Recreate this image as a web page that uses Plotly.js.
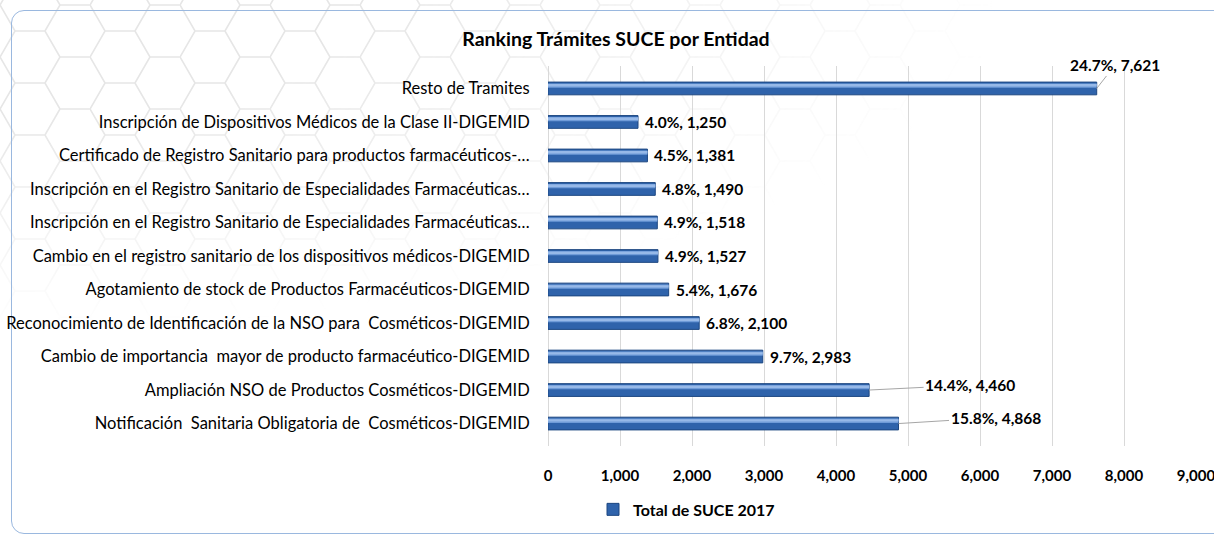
<!DOCTYPE html>
<html>
<head>
<meta charset="utf-8">
<script src="https://cdn.plot.ly/plotly-3.0.1.min.js"></script>
<style>
  html, body { margin:0; padding:0; background:#ffffff; }
  #wrap { position:relative; width:1214px; height:538px; overflow:hidden; background:#ffffff; }
  #hex {
    position:absolute; left:0; top:0; width:1214px; height:538px;
    background-image:url("data:image/svg+xml;utf8,<svg xmlns='http://www.w3.org/2000/svg' width='90' height='52'><path d='M0,26 L15,0 L45,0 L60,26 L45,52 L15,52 Z M60,26 L90,26' fill='none' stroke='%23e6e6e6' stroke-width='1.6'/></svg>");
    background-size:90px 52px;
    background-position:0px 31px;
    -webkit-mask-image:radial-gradient(ellipse 1000px 330px at 0px 0px, #000 35%, transparent 100%);
    mask-image:radial-gradient(ellipse 1000px 330px at 0px 0px, #000 35%, transparent 100%);
  }
  #card {
    position:absolute; left:11px; top:10px; width:1240px; height:524px;
    border:1.5px solid #9ab8df; border-radius:13px; box-sizing:border-box;
  }
  #chart { position:absolute; left:0; top:0; width:1214px; height:538px; }
</style>
</head>
<body>
<div id="wrap">
  <div id="hex"></div>
  <div id="card"></div>
  <div id="chart"></div>
</div>
<script>
// Data (top to bottom as shown)
const categories = [
  "Resto de Tramites",
  "Inscripción de Dispositivos Médicos de la Clase II-DIGEMID",
  "Certificado de Registro Sanitario para productos farmacéuticos-…",
  "Inscripción en el Registro Sanitario de Especialidades Farmacéuticas…",
  "Inscripción en el Registro Sanitario de Especialidades Farmacéuticas…",
  "Cambio en el registro sanitario de los dispositivos médicos-DIGEMID",
  "Agotamiento de stock de Productos Farmacéuticos-DIGEMID",
  "Reconocimiento de Identificación de la NSO para \u00a0Cosméticos-DIGEMID",
  "Cambio de importancia \u00a0mayor de producto farmacéutico-DIGEMID",
  "Ampliación NSO de Productos Cosméticos-DIGEMID",
  "Notificación \u00a0Sanitaria Obligatoria de \u00a0Cosméticos-DIGEMID"
];
const values = [7621, 1250, 1381, 1490, 1518, 1527, 1676, 2100, 2983, 4460, 4868];
const percents = [24.7, 4.0, 4.5, 4.8, 4.9, 4.9, 5.4, 6.8, 9.7, 14.4, 15.8];
const seriesName = "Total de SUCE 2017";
const xTicks = [0, 1000, 2000, 3000, 4000, 5000, 6000, 7000, 8000, 9000];

// labels with leader lines: offsets in px
const leader = { 0: [18, -23], 9: [101, -5], 10: [97, -6] };

const pos = categories.map((c, i) => i);
const fmt = v => v.toLocaleString('en-US');
const labelText = values.map((v, i) => percents[i].toFixed(1) + "%, " + fmt(v));

const base = {
  type: 'bar', orientation: 'h', x: values, y: pos, width: 0.38,
  name: seriesName, hoverinfo: 'skip',
  marker: { color: '#2f63ab', line: { color: '#1d4781', width: 1 } }
};
const hi = {
  type: 'bar', orientation: 'h', x: values, y: pos, width: 0.13, offset: -0.15,
  showlegend: false, hoverinfo: 'skip',
  marker: { color: '#6f9bd8', line: { width: 0 } }
};
const mid = {
  type: 'bar', orientation: 'h', x: values, y: pos, width: 0.07, offset: -0.13,
  showlegend: false, hoverinfo: 'skip',
  marker: { color: '#97b9e8', line: { width: 0 } }
};

const annotations = values.map((v, i) => {
  const common = {
    x: v, y: pos[i], xref: 'x', yref: 'y', text: labelText[i],
    font: { family: 'Lato, sans-serif', size: 15.5, color: '#000', weight: 'bold' }
  };
  if (leader[i]) {
    return Object.assign(common, {
      showarrow: true, arrowhead: 0, arrowwidth: 1, arrowcolor: '#a6a6a6',
      ax: leader[i][0], ay: leader[i][1], standoff: 0
    });
  }
  return Object.assign(common, { showarrow: false, xanchor: 'left', yanchor: 'middle', xshift: 5 });
});

const layout = {
  width: 1214, height: 538,
  paper_bgcolor: 'rgba(0,0,0,0)', plot_bgcolor: 'rgba(0,0,0,0)',
  margin: { l: 548, r: 18, t: 66, b: 82 },
  barmode: 'overlay',
  title: {
    text: 'Ranking Trámites SUCE por Entidad',
    font: { family: 'Lato, sans-serif', size: 19.5, color: '#000', weight: 'bold' },
    xref: 'container', yref: 'container', x: 616 / 1214, xanchor: 'center',
    y: 1 - 39 / 538, yanchor: 'middle'
  },
  xaxis: {
    range: [0, 9000], tickvals: xTicks, ticktext: xTicks.map(fmt),
    showgrid: true, gridcolor: '#d9d9d9', gridwidth: 1,
    zeroline: true, zerolinecolor: '#d9d9d9', zerolinewidth: 1,
    showline: false, ticks: 'outside', ticklen: 16, tickcolor: 'rgba(0,0,0,0)',
    ticklabeloverflow: 'allow',
    tickfont: { family: 'Lato, sans-serif', size: 15, color: '#000', weight: 'bold' },
    fixedrange: true
  },
  yaxis: {
    range: [10.67, -0.67], tickvals: pos, ticktext: categories,
    showgrid: false, zeroline: false, showline: false,
    ticks: 'outside', ticklen: 14, tickcolor: 'rgba(0,0,0,0)',
    tickfont: { family: 'Lato, sans-serif', size: 16.5, color: '#000' },
    fixedrange: true
  },
  showlegend: true,
  legend: {
    orientation: 'h', x: (593 - 548) / 648, xanchor: 'left', y: -0.167, yanchor: 'middle',
    font: { family: 'Lato, sans-serif', size: 16, color: '#000', weight: 'bold' },
    bgcolor: 'rgba(0,0,0,0)'
  },
  annotations: annotations
};

Plotly.newPlot('chart', [base, hi, mid], layout, { displayModeBar: false, staticPlot: true });
</script>
</body>
</html>
